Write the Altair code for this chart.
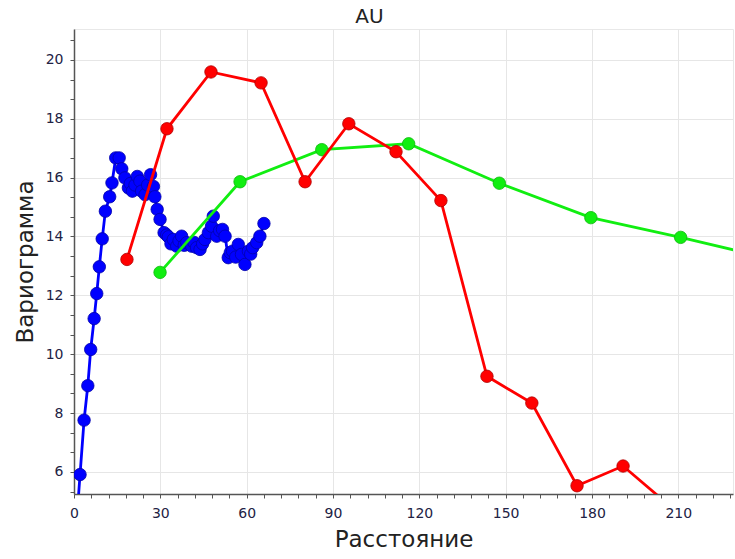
import altair as alt
import pandas as pd

# Blue series (dense lag variogram)
blue_x = [0.9, 2.1, 3.5, 4.8, 5.8, 7.0, 7.9, 8.8, 9.8, 10.9, 12.4, 13.2, 14.5, 15.7, 16.6, 17.7, 18.9,
          19.6, 20.3, 21.2, 22.0, 22.9, 23.5, 24.7, 25.6, 26.6, 27.6, 28.1, 28.9, 29.9, 31.3, 32.2,
          32.8, 33.7, 34.5, 35.7, 36.5, 37.4, 38.3, 39.2, 40.9, 41.7, 42.6, 43.8, 44.7, 45.5, 46.7,
          47.8, 48.4, 49.6, 50.6, 51.6, 52.5, 53.6, 54.3, 55.1, 56.2, 57.1, 58.2, 59.4, 60.6, 61.4,
          62.1, 63.5, 64.6, 66.0]
blue_y = [4.3, 5.91, 7.76, 8.93, 10.16, 11.21, 12.06, 12.97, 13.92, 14.86, 15.35, 15.82, 16.67, 16.67,
          16.3, 15.99, 15.65, 15.8, 15.54, 15.75, 16.04, 15.88, 15.54, 15.42, 15.75, 16.1, 15.7,
          15.35, 14.92, 14.58, 14.13, 14.05, 13.99, 13.75, 13.9, 13.67, 13.85, 14.01, 13.7, 13.79,
          13.67, 13.8, 13.62, 13.56, 13.75, 13.9, 14.13, 14.35, 14.69, 14.01, 14.2, 14.24, 14.01,
          13.28, 13.45, 13.5, 13.3, 13.73, 13.39, 13.05, 13.5, 13.4, 13.62, 13.79, 14.01, 14.44]

# Red series
red_x = [18.4, 32.3, 47.6, 65.0, 80.3, 95.5, 111.9, 127.5, 143.5, 159.1, 174.8, 190.8, 206.4]
red_y = [13.22, 17.66, 19.59, 19.22, 15.86, 17.83, 16.88, 15.22, 9.25, 8.34, 5.53, 6.2, 4.9]

# Green series
green_x = [29.9, 57.7, 86.1, 116.3, 147.8, 179.6, 210.8, 241.8]
green_y = [12.78, 15.86, 16.95, 17.15, 15.81, 14.64, 13.97, 13.25]

x_ticks = [i * 6 for i in range(0, 39)]
y_ticks = [round(4 + i * 2 / 3, 4) for i in range(2, 26)]

X_DOMAIN = [0, 229]
Y_DOMAIN = [5.25, 21.05]

FONT = "DejaVu Sans"

x_enc = alt.X(
    "x:Q",
    scale=alt.Scale(domain=X_DOMAIN, nice=False, zero=False),
    axis=alt.Axis(
        values=x_ticks,
        labelExpr="datum.value % 30 === 0 ? datum.label : ''",
        gridOpacity={"condition": {"test": "datum.value % 30 === 0", "value": 1}, "value": 0},
        labelOverlap=False,
        labelFlush=False,
        title="Расстояние",
    ),
)
y_enc = alt.Y(
    "y:Q",
    scale=alt.Scale(domain=Y_DOMAIN, nice=False, zero=False),
    axis=alt.Axis(
        values=y_ticks,
        labelExpr="abs(datum.value - round(datum.value / 2) * 2) < 0.01 ? format(datum.value, 'd') : ''",
        gridOpacity={"condition": {"test": "abs(datum.value - round(datum.value / 2) * 2) < 0.01", "value": 1}, "value": 0},
        labelOverlap=False,
        labelFlush=False,
        title="Вариограмма",
    ),
)


def series(xs, ys, color, edge):
    df = pd.DataFrame({"x": xs, "y": ys})
    return alt.Chart(df).mark_line(
        color=color, strokeWidth=2.8, clip=True,
        point=alt.OverlayMarkDef(filled=True, size=155, color=color, opacity=1,
                                 stroke=edge, strokeWidth=0.8),
    ).encode(x=x_enc, y=y_enc)


chart = alt.layer(
    series(blue_x, blue_y, "#0000ff", "#0000aa"),
    series(green_x, green_y, "#11ee11", "#0cb80c"),
    series(red_x, red_y, "#ff0000", "#b00000"),
).properties(
    width=659,
    height=465,
    autosize=alt.AutoSizeParams(type="none"),
    padding={"left": 74, "top": 29, "right": 2, "bottom": 65},
    title=alt.TitleParams("AU", fontSize=20, font=FONT, fontWeight="normal", color="#222222",
                          dx=-34, offset=2),
).configure_view(
    stroke="#e8e8e8", strokeWidth=1,
).configure_axis(
    domainColor="#555555", domainWidth=1.5,
    tickColor="#555555", tickSize=4, tickWidth=1,
    gridColor="#e6e6e6", gridWidth=1,
    labelFont=FONT, labelFontSize=14, labelColor="#222244",
    titleFont=FONT, titleFontSize=23, titleFontWeight="normal", titleColor="#222222",
).configure_axisX(
    labelPadding=8, titlePadding=8,
).configure_axisY(
    labelPadding=7, titlePadding=8,
)

chart.save("out.html", embed_options={"renderer": "svg", "actions": False})
